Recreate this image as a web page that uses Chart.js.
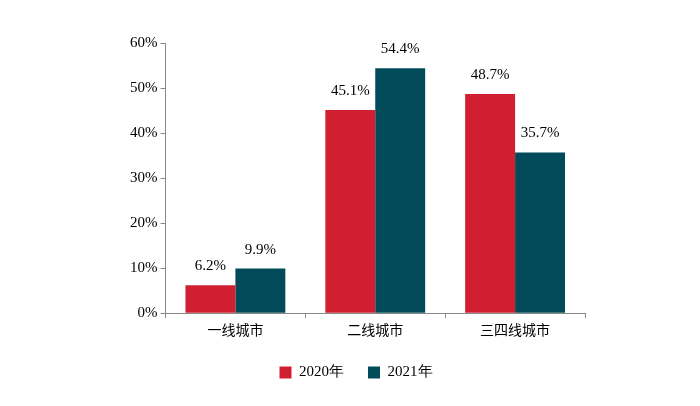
<!DOCTYPE html>
<html><head><meta charset="utf-8">
<script src="https://cdn.jsdelivr.net/npm/chart.js@4"></script>
<style>body{margin:0;background:#fff}#wrap{width:700px;height:406px}</style>
</head><body><div id="wrap"><canvas id="c"></canvas></div>
<script>
const categories = ["一线城市", "二线城市", "三四线城市"];
const values2020 = [6.2, 45.1, 48.7];
const values2021 = [9.9, 54.4, 35.7];
const seriesNames = ["2020年", "2021年"];

const labelPlugin = {
    id: "labels",
    afterDatasetsDraw(chart) {
        const ctx = chart.ctx;
        ctx.save();
        ctx.font = "15px 'Liberation Serif'";
        ctx.fillStyle = "#000";
        ctx.textAlign = "center";
        chart.data.datasets.forEach((ds, i) => {
            chart.getDatasetMeta(i).data.forEach((bar, j) => {
                ctx.fillText(ds.data[j].toFixed(1) + "%", bar.x, bar.y - 19);
            });
        });
        ctx.restore();
    }
};

new Chart(document.getElementById("c"), {
    type: "bar",
    data: {
        labels: categories,
        datasets: [{
            label: seriesNames[0],
            backgroundColor: "#d01f30",
            data: values2020
        }, {
            label: seriesNames[1],
            backgroundColor: "#004a5a",
            data: values2021
        }]
    },
    plugins: [labelPlugin],
    options: {
        responsive: true,
        maintainAspectRatio: false,
        animation: false,
        layout: { padding: { left: 127, right: 115, top: 43, bottom: 16 } },
        datasets: { bar: { categoryPercentage: 0.714, barPercentage: 1 } },
        scales: {
            y: {
                min: 0, max: 60,
                ticks: { stepSize: 10, callback: v => v + "%", color: "#000", padding: 3,
                    font: { family: "Liberation Serif", size: 15 } },
                grid: { drawOnChartArea: false, drawTicks: true, tickLength: 5, color: "#888" },
                border: { color: "#888" }
            },
            x: {
                ticks: { color: "#000", font: { family: "Noto Sans CJK SC", size: 14 } },
                grid: { drawOnChartArea: false, offset: true, drawTicks: true, tickLength: 5, color: "#888" },
                border: { color: "#888" }
            }
        },
        plugins: {
            legend: {
                position: "bottom",
                labels: { boxWidth: 12, boxHeight: 12, color: "#000", padding: 24,
                    font: { family: "Liberation Serif", size: 15 } }
            },
            tooltip: { enabled: false }
        }
    }
});
</script></body></html>
